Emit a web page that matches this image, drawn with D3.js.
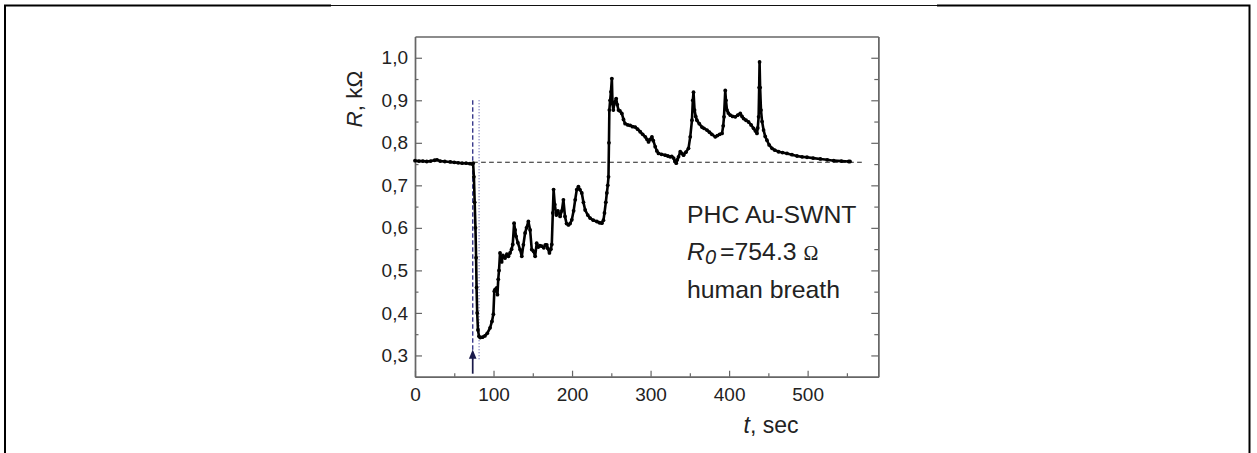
<!DOCTYPE html>
<html><head><meta charset="utf-8">
<script src="https://cdn.jsdelivr.net/npm/d3@7"></script>
<style>
html,body{margin:0;padding:0;background:#fff;}
svg{display:block;}
text{font-family:"Liberation Sans",Arial,sans-serif;fill:#222;}
</style></head>
<body>
<svg id="chart" width="1257" height="453"></svg>
<script>
// ---- data (t in sec, R in kOhm) ----
const times = [0,5,10,15,20,25,28,32,38,45,50,55,60,65,70,73,74,
75,76,77,77.8,78.4,79.2,80.2,81.5,83,86,89,92,95.6,98,99.8,101,102,104,105,106,107,108.3,110.4,112,114.7,117,119,121,123,124.5,126.2,127.5,128.7,131,133.8,136,138,140.2,142,144.4,146.6,148.7,151,153,155,157,159,161.4,164,166,167.8,169,171.2,173,174.2,175.5,176.5,178,180,182,184.8,187,189,191,193,195.4,197.5,199.7,202,204,206,208.1,210,212.4,214.5,216.7,220,223,227,231.6,235,238,240,241.3,243,244.3,245.5,246.4,247,247.5,248.5,249.5,250.7,251.5,252.6,254,256.2,257.5,259.1,261,263.4,265.5,267.6,271,274,277,280.4,283.5,286.8,290,293.2,295.5,297.4,299.5,301.7,303.5,305.9,308,310.1,314,318.6,322,325,327,329.3,331,332.7,334,335.6,337.8,340,342,345,348.3,350.5,352.7,353.8,354.7,356,357.5,359,362,365.4,368,371.8,375,378,382.4,385,388,391,392.5,393.5,395.1,396,397.3,399,401.5,404.5,407.9,411,414.2,416.5,418.5,421.5,424.8,428,431.2,433.5,435.5,436.5,437.6,438.3,438.8,439.5,440.6,442,443.9,446,448.2,451,454.6,458,463,468,473.7,480,486.5,493,499.2,507,516.2,525,533.2,543,552.3,554];
const resistance = [0.758,0.757,0.757,0.756,0.757,0.759,0.760,0.757,0.756,0.755,0.754,0.753,0.752,0.752,0.751,0.750,0.752,
0.72,0.66,0.60,0.53,0.46,0.40,0.36,0.345,0.342,0.343,0.346,0.352,0.365,0.380,0.397,0.451,0.455,0.459,0.443,0.479,0.50,0.541,0.52,0.535,0.529,0.538,0.533,0.541,0.55,0.561,0.611,0.595,0.58,0.565,0.549,0.533,0.56,0.588,0.60,0.615,0.595,0.549,0.545,0.533,0.564,0.555,0.558,0.557,0.553,0.56,0.56,0.552,0.541,0.55,0.561,0.635,0.69,0.655,0.63,0.64,0.627,0.64,0.666,0.627,0.61,0.607,0.61,0.619,0.64,0.666,0.69,0.697,0.69,0.682,0.66,0.642,0.63,0.623,0.618,0.615,0.612,0.611,0.618,0.635,0.66,0.682,0.70,0.72,0.80,0.877,0.90,0.92,0.951,0.892,0.877,0.895,0.904,0.89,0.877,0.875,0.869,0.855,0.845,0.842,0.841,0.838,0.837,0.832,0.826,0.82,0.814,0.808,0.802,0.808,0.814,0.805,0.791,0.781,0.775,0.773,0.771,0.769,0.767,0.768,0.764,0.757,0.752,0.76,0.767,0.779,0.775,0.771,0.778,0.787,0.814,0.853,0.90,0.919,0.877,0.862,0.853,0.845,0.837,0.834,0.83,0.825,0.82,0.814,0.817,0.82,0.822,0.84,0.861,0.923,0.90,0.877,0.87,0.865,0.862,0.861,0.865,0.869,0.862,0.857,0.853,0.849,0.842,0.834,0.828,0.822,0.835,0.861,0.93,0.99,0.93,0.877,0.85,0.83,0.815,0.806,0.795,0.787,0.783,0.779,0.777,0.775,0.772,0.769,0.767,0.766,0.764,0.762,0.76,0.758,0.757,0.756,0.756];

const xTicks = [0,100,200,300,400,500];
const xMinorTicks = [50,150,250,350,450,550];
const yTicks = [0.3,0.4,0.5,0.6,0.7,0.8,0.9,1.0];
const yMinorTicks = [0.35,0.45,0.55,0.65,0.75,0.85,0.95];
const baselineR0 = 0.7543;        // kOhm
const baselineSpan = [74, 569];   // sec
const injectT = 73.5, markT = 81.6;
const markerSpan = [0.29, 0.90];
const labelLines = ["PHC Au-SWNT", "=754.3 ", "human breath"];

// ---- layout ----
const svg = d3.select("#chart");
const L = 415, R = 878.3, T = 36.5, B = 376.7;
const x = d3.scaleLinear().domain([0, 590]).range([L, R]);
const y = d3.scaleLinear().domain([0.25, 1.05]).range([B, T]);
const fmt = v => d3.format(".1f")(v).replace(".", ",");
const frameCol = "#666";

// outer frame (left, top, right)
svg.append("path").attr("d", "M5,453 L5,5.5 L331,5.5").attr("fill","none").attr("stroke","#000").attr("stroke-width",2);
svg.append("path").attr("d", "M331,5.5 L937,5.5").attr("fill","none").attr("stroke","#111").attr("stroke-width",1);
svg.append("path").attr("d", "M937,5.5 L1249.5,5.5 L1249.5,453").attr("fill","none").attr("stroke","#000").attr("stroke-width",2);

// axes with inward ticks
svg.append("g").attr("transform", `translate(0,${B})`)
  .call(d3.axisBottom(x).tickValues(xTicks).tickSizeInner(-6).tickSizeOuter(0).tickPadding(11));
svg.append("g").attr("transform", `translate(0,${B})`)
  .call(d3.axisBottom(x).tickValues(xMinorTicks).tickSizeInner(-3.5).tickSizeOuter(0).tickFormat(""));
svg.append("g").attr("transform", `translate(${L},0)`)
  .call(d3.axisLeft(y).tickValues(yTicks).tickSizeInner(-7).tickSizeOuter(0).tickPadding(7).tickFormat(fmt));
svg.append("g").attr("transform", `translate(${L},0)`)
  .call(d3.axisLeft(y).tickValues(yMinorTicks).tickSizeInner(-3.5).tickSizeOuter(0).tickFormat(""));
svg.append("g").attr("transform", `translate(${R},0)`)
  .call(d3.axisRight(y).tickValues(yTicks).tickSizeInner(-7).tickSizeOuter(0).tickFormat(""));
svg.append("g").attr("transform", `translate(${R},0)`)
  .call(d3.axisRight(y).tickValues(yMinorTicks).tickSizeInner(-4).tickSizeOuter(0).tickFormat(""));
svg.append("g").attr("transform", `translate(0,${T})`)
  .call(d3.axisTop(x).tickValues([]).tickSizeOuter(0));
svg.selectAll(".domain").attr("stroke", frameCol).attr("stroke-width", 1.4);
svg.selectAll(".tick line").attr("stroke", frameCol).attr("stroke-width", 1.2);
svg.selectAll(".tick text").attr("font-size", 19).attr("fill", "#222")
  .attr("font-family", '"Liberation Sans",Arial,sans-serif');

// reference lines
svg.append("line").attr("x1", x(baselineSpan[0])).attr("x2", x(baselineSpan[1]))
  .attr("y1", y(baselineR0)).attr("y2", y(baselineR0))
  .attr("stroke", "#222").attr("stroke-width", 1.2).attr("stroke-dasharray", "4.7,3.3");
svg.append("line").attr("x1", x(injectT)).attr("x2", x(injectT))
  .attr("y1", y(markerSpan[1])).attr("y2", y(markerSpan[0]))
  .attr("stroke", "#3a3a8c").attr("stroke-width", 1.4).attr("stroke-dasharray", "4.5,2.5");
svg.append("line").attr("x1", x(markT)).attr("x2", x(markT))
  .attr("y1", y(markerSpan[1])).attr("y2", y(markerSpan[0]))
  .attr("stroke", "#5a5aaa").attr("stroke-width", 1.1).attr("stroke-dasharray", "1,2");

// data curve
const pts = times.map((t, i) => [t, resistance[i]]);
svg.append("path").datum(pts)
  .attr("d", d3.line().x(d => x(d[0])).y(d => y(d[1])))
  .attr("fill", "none").attr("stroke", "#000").attr("stroke-width", 2.6).attr("stroke-linejoin", "round");
svg.append("g").selectAll("circle").data(pts).join("circle")
  .attr("cx", d => x(d[0])).attr("cy", d => y(d[1])).attr("r", 1.9).attr("fill", "#000");

// arrow
const ax = x(injectT);
svg.append("line").attr("x1", ax).attr("x2", ax).attr("y1", B - 3).attr("y2", y(0.295))
  .attr("stroke", "#1a1a4a").attr("stroke-width", 1.7);
svg.append("path").attr("d", `M${ax},${y(0.314)} L${ax-3.8},${y(0.292)} L${ax+3.8},${y(0.292)} Z`)
  .attr("fill", "#1a1a4a");

// axis titles
const tx = svg.append("text").attr("x", 771).attr("y", 433).attr("text-anchor", "middle").attr("font-size", 23);
tx.append("tspan").attr("font-style", "italic").text("t");
tx.append("tspan").text(", sec");
const ty = svg.append("text").attr("transform", "translate(362,99) rotate(-90)").attr("text-anchor", "middle").attr("font-size", 22.5);
ty.append("tspan").attr("font-style", "italic").text("R");
ty.append("tspan").text(", k\u03A9");

// annotation
svg.append("text").attr("x", 687).attr("y", 223).attr("font-size", 24.8).text(labelLines[0]);
const r0 = svg.append("text").attr("x", 687).attr("y", 260).attr("font-size", 24.8);
r0.append("tspan").attr("font-style", "italic").text("R");
r0.append("tspan").attr("font-style", "italic").attr("font-size", 20).attr("dy", 4).text("0");
r0.append("tspan").attr("dy", -4).attr("dx", 4).text(labelLines[1]);
r0.append("tspan").attr("font-family", '"Liberation Serif","Times New Roman",serif').attr("font-size", 20).text("\u03A9");
svg.append("text").attr("x", 687).attr("y", 298).attr("font-size", 24.8).text(labelLines[2]);
</script>
</body></html>
